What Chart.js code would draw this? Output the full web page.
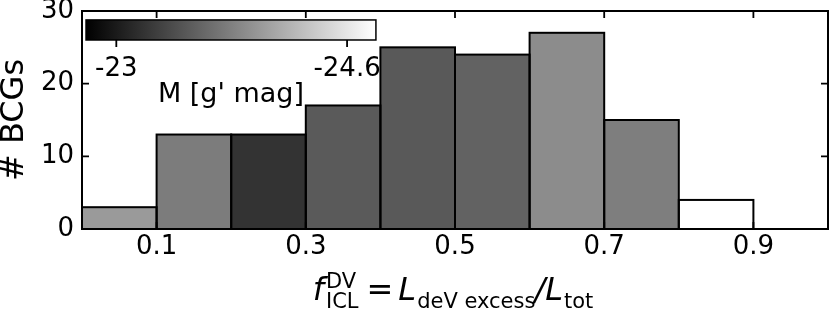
<!DOCTYPE html>
<html><head><meta charset="utf-8">
<script src="https://cdn.jsdelivr.net/npm/chart.js@4.4.0/dist/chart.umd.min.js"></script>
<style>html,body{margin:0;padding:0;background:#fff;} #wrap{width:830px;height:310px;position:relative;}</style>
</head><body><div id="wrap"><canvas id="c" width="830" height="310"></canvas></div>
<script>
// ---- data ----
const binStarts = [0.0, 0.1, 0.2, 0.3, 0.4, 0.5, 0.6, 0.7, 0.8, 0.9];
const binWidth = 0.1;
const counts = [3, 13, 13, 17, 25, 24, 27, 15, 4, 0];
const binColors = ['#9a9a9a', '#7c7c7c', '#333333', '#5a5a5a', '#595959', '#626262', '#8c8c8c', '#7e7e7e', '#ffffff', '#ffffff'];
const xTickValues = [0.1, 0.3, 0.5, 0.7, 0.9];
const yTickValues = [0, 10, 20, 30];
const cbarRange = [-22.79, -24.80];
const cbarTicks = [-23, -24.6];
const cbarTickLabels = ['-23', '-24.6'];
const cbarLabel = "M [g' mag]";
const yTitle = '# BCGs';

const FONT = 'DejaVu Sans';
const black = '#000000';

const points = binStarts.map((s, i) => ({ x: s + binWidth / 2, y: counts[i] }));

const framePlugin = {
  id: 'frame',
  afterDatasetsDraw(chart) {
    const ctx = chart.ctx;
    const meta = chart.getDatasetMeta(0);
    ctx.save();
    ctx.strokeStyle = black;
    ctx.lineWidth = 2;
    meta.data.forEach((bar, i) => {
      if (counts[i] === 0) return;
      const p = bar.getProps(['x', 'y', 'base', 'width'], true);
      ctx.strokeRect(p.x - p.width / 2, p.y, p.width, p.base - p.y);
    });
    ctx.restore();
  },
  afterDraw(chart) {
    const ctx = chart.ctx;
    const a = chart.chartArea;
    const xs = chart.scales.x, ys = chart.scales.y;
    ctx.save();
    ctx.strokeStyle = black;
    ctx.lineWidth = 1.8;
    // inward ticks
    const tl = 7;
    ctx.beginPath();
    xTickValues.forEach(v => {
      const px = xs.getPixelForValue(v);
      ctx.moveTo(px, a.bottom); ctx.lineTo(px, a.bottom - tl);
      ctx.moveTo(px, a.top); ctx.lineTo(px, a.top + tl);
    });
    yTickValues.forEach(v => {
      const py = ys.getPixelForValue(v);
      ctx.moveTo(a.left, py); ctx.lineTo(a.left + tl, py);
      ctx.moveTo(a.right, py); ctx.lineTo(a.right - tl, py);
    });
    ctx.stroke();
    ctx.lineWidth = 2;
    ctx.strokeRect(a.left, a.top, a.right - a.left, a.bottom - a.top);

    // colorbar (inset, axes-fraction placement)
    const W = a.right - a.left, H = a.bottom - a.top;
    const cx0 = a.left + 0.0054 * W, cx1 = a.left + 0.394 * W;
    const cy0 = a.bottom - 0.959 * H, cy1 = a.bottom - 0.867 * H;
    const g = ctx.createLinearGradient(cx0, 0, cx1, 0);
    g.addColorStop(0, '#000000');
    g.addColorStop(1, '#ffffff');
    ctx.fillStyle = g;
    ctx.fillRect(cx0, cy0, cx1 - cx0, cy1 - cy0);
    ctx.lineWidth = 1.5;
    ctx.strokeRect(cx0, cy0, cx1 - cx0, cy1 - cy0);
    ctx.fillStyle = black;
    ctx.font = '26px "' + FONT + '"';
    ctx.textAlign = 'center';
    ctx.textBaseline = 'alphabetic';
    ctx.beginPath();
    cbarTicks.forEach((t, i) => {
      const f = (t - cbarRange[0]) / (cbarRange[1] - cbarRange[0]);
      const px = cx0 + f * (cx1 - cx0);
      ctx.moveTo(px, cy1); ctx.lineTo(px, cy1 + 7);
      ctx.fillText(cbarTickLabels[i], px, cy1 + 36);
    });
    ctx.lineWidth = 1.8;
    ctx.stroke();
    ctx.font = '27px "' + FONT + '"';
    ctx.fillText(cbarLabel, (cx0 + cx1) / 2, cy1 + 62);

    // x axis title (math-style)
    const B = 300;
    const big = 32, sm = 21;
    const fi = 'italic ' + big + 'px "' + FONT + '"';
    const fr = big + 'px "' + FONT + '"';
    const fs = sm + 'px "' + FONT + '"';
    const wOf = (t, f) => { ctx.font = f; return ctx.measureText(t).width; };
    const pieces = [];
    pieces.push({ t: 'f', f: fi, dy: 0, gap: 0 });
    pieces.push({ stack: [{ t: 'DV', f: fs, dy: -12 }, { t: 'ICL', f: fs, dy: 8 }], gap: 2 });
    pieces.push({ t: '=', f: fr, dy: 0, gap: 8 });
    pieces.push({ t: 'L', f: fi, dy: 0, gap: 5 });
    pieces.push({ t: 'deV excess', f: fs, dy: 8, gap: 1 });
    pieces.push({ t: '/', f: fi, dy: 0, gap: -1 });
    pieces.push({ t: 'L', f: fi, dy: 0, gap: 0 });
    pieces.push({ t: 'tot', f: fs, dy: 8, gap: 1 });
    let total = 0;
    pieces.forEach(p => {
      p.w = p.stack ? Math.max(...p.stack.map(s => wOf(s.t, s.f))) : wOf(p.t, p.f);
      total += p.gap + p.w;
    });
    let x = (a.left + a.right) / 2 - 2 - total / 2;
    ctx.textAlign = 'left';
    pieces.forEach(p => {
      x += p.gap;
      if (p.stack) {
        p.stack.forEach(s => { ctx.font = s.f; ctx.fillText(s.t, x, B + s.dy); });
      } else {
        ctx.font = p.f; ctx.fillText(p.t, x, B + p.dy);
      }
      x += p.w;
    });
    ctx.restore();
  }
};

new Chart(document.getElementById('c'), {
  type: 'bar',
  data: {
    datasets: [{
      data: points,
      backgroundColor: binColors,
      borderWidth: 0,
      barPercentage: 1.0,
      categoryPercentage: 1.0,
      inflateAmount: 0
    }]
  },
  options: {
    responsive: false,
    animation: false,
    devicePixelRatio: 1,
    layout: { padding: { top: 11, right: 2, left: 0, bottom: 0 } },
    plugins: { legend: { display: false }, tooltip: { enabled: false } },
    scales: {
      x: {
        type: 'linear', min: 0, max: 1, offset: false,
        grid: { display: false, drawTicks: false },
        border: { display: false },
        afterBuildTicks: s => { s.ticks = xTickValues.map(v => ({ value: v })); },
        afterFit: s => { s.height = 81; s.paddingLeft = 0; s.paddingRight = 0; },
        ticks: {
          color: black, padding: 3, maxRotation: 0, autoSkip: false,
          font: { family: FONT, size: 26 },
          callback: v => String(v)
        }
      },
      y: {
        min: 0, max: 30,
        grid: { display: false, drawTicks: false },
        border: { display: false },
        afterBuildTicks: s => { s.ticks = yTickValues.map(v => ({ value: v })); },
        afterFit: s => { s.width = 82; s.paddingTop = 0; s.paddingBottom = 0; },
        ticks: { color: black, padding: 8, font: { family: FONT, size: 26 } },
        title: {
          display: true, text: yTitle, color: black,
          font: { family: FONT, size: 32, lineHeight: 0.94 },
          padding: { top: 0, bottom: 0 }
        }
      }
    }
  },
  plugins: [framePlugin]
});
</script>
</body></html>
